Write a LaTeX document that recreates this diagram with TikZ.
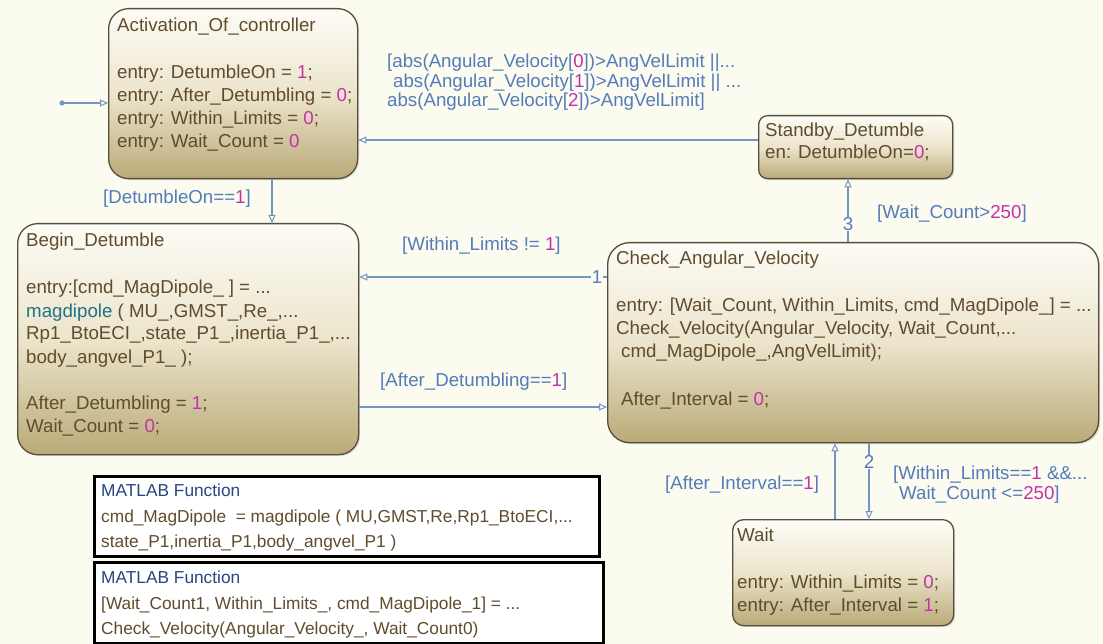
\documentclass[tikz,border=0pt]{standalone}
\usepackage{fontspec}
\setmainfont{Liberation Sans}
\usetikzlibrary{arrows.meta,shadows}

\definecolor{bgc}{RGB}{252,251,240}
\definecolor{sftext}{RGB}{96,76,44}
\definecolor{sfnum}{RGB}{196,50,170}
\definecolor{sflabel}{RGB}{84,124,186}
\definecolor{sfline}{RGB}{115,148,196}
\definecolor{sfborder}{RGB}{85,78,62}
\definecolor{sftop}{RGB}{253,252,246}
\definecolor{sfmid}{RGB}{236,229,204}
\definecolor{sfbot}{RGB}{186,170,120}
\definecolor{sffunc}{RGB}{30,115,135}
\definecolor{mlblue}{RGB}{40,70,130}

\newcommand\numc[1]{\textcolor{sfnum}{#1}}

\begin{document}
\begin{tikzpicture}[x=1pt,y=-1pt,
  stt/.style={draw=sfborder, line width=1.3pt, top color=sftop, bottom color=sfbot,
    middle color=sfmid, inner sep=0pt, anchor=north west,
    drop shadow={opacity=0.25, shadow xshift=1.5pt, shadow yshift=-1.5pt}},
  txt/.style={anchor=base west, inner sep=0pt, text=sftext,
    font=\fontsize{18.7}{20}\selectfont},
  lbl/.style={txt, text=sflabel},
  num/.style={inner sep=0.6pt, fill=bgc, text=sflabel,
    font=\fontsize{18.7}{20}\selectfont},
  tr/.style={draw=sfline, line width=1.1pt,
    -{Triangle[open,length=8pt,width=7pt,line width=1pt]}},
  mlbox/.style={draw=black, line width=2.6pt, fill=white, inner sep=0pt, anchor=north west},
  mltext/.style={txt, font=\fontsize{17.3}{19}\selectfont},
  mltitle/.style={mltext, text=mlblue}
]
% canvas
\fill[bgc] (0,0) rectangle (1103,644);
\useasboundingbox (0,0) rectangle (1103,644);

% ---------------- states ----------------
\node[stt, rounded corners=20pt, minimum width=249pt, minimum height=170pt] (act) at (108,8) {};
\node[stt, rounded corners=20pt, minimum width=341pt, minimum height=231pt] (beg) at (17,223) {};
\node[stt, rounded corners=22pt, minimum width=491pt, minimum height=200pt] (chk) at (607,242) {};
\node[stt, rounded corners=9pt, minimum width=194pt, minimum height=63pt] (sby) at (758,115) {};
\node[stt, rounded corners=11pt, minimum width=221pt, minimum height=106pt] (wt) at (732,519) {};

% Activation_Of_controller
\node[txt] (act0) at (117,31.5) {Activation\_Of\_controller};
\node[txt] (act1) at (117,78.5) {entry: DetumbleOn = \numc{1};};
\node[txt] (act2) at (117,101.5) {entry: After\_Detumbling = \numc{0};};
\node[txt] (act3) at (117,124.5) {entry: Within\_Limits = \numc{0};};
\node[txt] (act4) at (117,147.5) {entry: Wait\_Count = \numc{0}};

% Begin_Detumble
\node[txt] (beg0) at (26,247) {Begin\_Detumble};
\node[txt] (beg1) at (26,294) {entry:[cmd\_MagDipole\_ ] = ...};
\node[txt] (beg2) at (26,317) {\textcolor{sffunc}{magdipole} ( MU\_,GMST\_,Re\_,...};
\node[txt] (beg3) at (26,340) {Rp1\_BtoECI\_,state\_P1\_,inertia\_P1\_,...};
\node[txt] (beg4) at (26,363) {body\_angvel\_P1\_ );};
\node[txt] (beg5) at (26,409) {After\_Detumbling = \numc{1};};
\node[txt] (beg6) at (26,432) {Wait\_Count = \numc{0};};

% Check_Angular_Velocity
\node[txt] (chk0) at (616,264.5) {Check\_Angular\_Velocity};
\node[txt] (chk1) at (616,311.5) {entry: [Wait\_Count, Within\_Limits, cmd\_MagDipole\_] = ...};
\node[txt] (chk2) at (616,334.5) {Check\_Velocity(Angular\_Velocity, Wait\_Count,...};
\node[txt] (chk3) at (621,357.5) {cmd\_MagDipole\_,AngVelLimit);};
\node[txt] (chk4) at (621,405.5) {After\_Interval = \numc{0};};

% Standby_Detumble
\node[txt] (sby0) at (765,136.5) {Standby\_Detumble};
\node[txt] (sby1) at (765,158.5) {en: DetumbleOn=\numc{0};};

% Wait
\node[txt] (wt0) at (737,541.5) {Wait};
\node[txt] (wt1) at (737,588.5) {entry: Within\_Limits = \numc{0};};
\node[txt] (wt2) at (737,611) {entry: After\_Interval = \numc{1};};

% ---------------- transitions ----------------
\coordinate (init) at (62,103);
\fill[sfline] (init) circle (2.6);
\draw[tr] (init) -- (init -| act.west);

\coordinate (xa) at (272,0);
\draw[tr] (act.south -| xa) -- (beg.north -| xa);
\node[lbl] (l1) at (103,204) {[DetumbleOn==\numc{1}]};

\coordinate (ys) at (0,140);
\draw[tr] (sby.west |- ys) -- (act.east |- ys);
\node[lbl] (l2a) at (387,68) {[abs(Angular\_Velocity[\numc{0}])>AngVelLimit ||...};
\node[lbl] (l2b) at (393,88) {abs(Angular\_Velocity[\numc{1}])>AngVelLimit || ...};
\node[lbl] (l2c) at (387,107) {abs(Angular\_Velocity[\numc{2}])>AngVelLimit]};

\coordinate (yw) at (0,277);
\draw[tr] (chk.west |- yw) -- (beg.east |- yw);
\node[num] (n1) at (597,277) {1};
\node[lbl] (l3) at (402,251) {[Within\_Limits != \numc{1}]};

\coordinate (yd) at (0,407);
\draw[tr] (beg.east |- yd) -- (chk.west |- yd);
\node[lbl] (l4) at (380,386) {[After\_Detumbling==\numc{1}]};

\coordinate (x3) at (848,0);
\draw[tr] (chk.north -| x3) -- (sby.south -| x3);
\node[num] (n3) at (848,224) {3};
\node[lbl] (l5) at (877,219) {[Wait\_Count>\numc{250}]};

\coordinate (xu) at (835,0);
\draw[tr] (wt.north -| xu) -- (chk.south -| xu);
\node[lbl] (l6) at (665,489) {[After\_Interval==\numc{1}]};

\coordinate (x2) at (869,0);
\draw[tr] (chk.south -| x2) -- (wt.north -| x2);
\node[num] (n2) at (869,462) {2};
\node[lbl] (l7a) at (893,479) {[Within\_Limits==\numc{1} \&\&...};
\node[lbl] (l7b) at (899,499) {Wait\_Count <=\numc{250}]};

% ---------------- MATLAB function blocks ----------------
\node[mlbox, minimum width=505pt, minimum height=80pt] (mf1) at (93,475) {};
\node[mltitle] (mf1a) at (101,496) {MATLAB Function};
\node[mltext] (mf1b) at (101,522) {cmd\_MagDipole\ \ = magdipole ( MU,GMST,Re,Rp1\_BtoECI,...};
\node[mltext] (mf1c) at (101,547) {state\_P1,inertia\_P1,body\_angvel\_P1 )};

\node[mlbox, minimum width=509pt, minimum height=81pt] (mf2) at (93,561) {};
\node[mltitle] (mf2a) at (101,583) {MATLAB Function};
\node[mltext] (mf2b) at (101,609) {[Wait\_Count1, Within\_Limits\_, cmd\_MagDipole\_1] = ...};
\node[mltext] (mf2c) at (101,634) {Check\_Velocity(Angular\_Velocity\_, Wait\_Count0)};
\end{tikzpicture}
\end{document}
